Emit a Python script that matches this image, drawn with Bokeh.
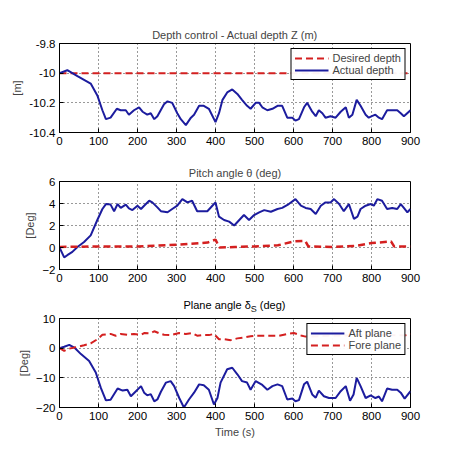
from bokeh.plotting import figure
from bokeh.layouts import column
from bokeh.models import (FixedTicker, CustomJSTickFormatter, Div,
                          Legend, LegendItem, Range1d)
from bokeh.embed import file_html
from bokeh.resources import INLINE

# depth control
t_depth = [0, 20, 46, 80, 97, 110, 119, 131, 147, 157, 170, 178, 191, 204, 213, 225, 234, 243, 251, 268,
           277, 289, 302, 311, 324, 337, 345, 358, 370, 383, 400, 409, 418, 430, 443, 456, 468, 481, 490, 503,
           512, 520, 533, 546, 559, 571, 584, 597, 605, 614, 627, 635, 648, 657, 665, 674, 682, 695, 708, 721,
           734, 742, 751, 762, 772, 785, 793, 801, 810, 819, 827, 840, 853, 866, 875, 883, 900]
depth_actual = [-10.0, -9.98, -10.02, -10.07, -10.15, -10.25, -10.31, -10.30, -10.24, -10.25,
                -10.25, -10.28, -10.25, -10.23, -10.26, -10.28, -10.27, -10.31, -10.29, -10.21,
                -10.19, -10.20, -10.27, -10.31, -10.35, -10.30, -10.28, -10.22, -10.22, -10.24,
                -10.33, -10.27, -10.18, -10.13, -10.11, -10.14, -10.18, -10.22, -10.24, -10.20,
                -10.20, -10.23, -10.25, -10.24, -10.22, -10.22, -10.30, -10.30, -10.32, -10.31,
                -10.23, -10.20, -10.26, -10.29, -10.25, -10.27, -10.30, -10.29, -10.30, -10.26,
                -10.23, -10.30, -10.28, -10.18, -10.22, -10.28, -10.30, -10.29, -10.28, -10.30,
                -10.31, -10.25, -10.25, -10.25, -10.27, -10.29, -10.25]
t_desired = [0, 900]
depth_desired = [-10, -10]

# pitch angle
t_pitch = [0, 12, 20, 33, 46, 63, 80, 97, 110, 119, 131, 140, 149, 157, 170, 178, 187, 200, 209, 217,
           230, 238, 251, 260, 277, 289, 302, 315, 328, 340, 353, 366, 379, 392, 400, 409, 422, 435, 448, 461,
           473, 486, 499, 512, 525, 542, 559, 571, 588, 605, 619, 631, 644, 657, 670, 682, 695, 704, 717, 729,
           742, 755, 764, 772, 785, 798, 806, 815, 827, 840, 853, 866, 875, 883, 892, 900]
pitch = [0, -0.9, -0.7, -0.4, 0.05, 0.5, 1.1, 2.5, 3.5, 3.95, 3.9, 3.3, 3.95, 3.6, 3.9, 3.55, 3.4, 3.8, 3.5, 3.8,
         4.25, 4.1, 3.65, 3.3, 3.2, 3.5, 3.8, 4.4, 4.1, 4.25, 3.3, 3.3, 3.3, 3.8, 4.1, 2.8, 2.5, 2.35, 2.0, 2.5,
         2.95, 2.5, 2.95, 3.2, 3.4, 3.25, 3.5, 3.6, 3.95, 4.4, 3.8, 3.6, 3.5, 3.05, 3.8, 4.1, 4.1, 4.4, 3.95, 3.3,
         3.95, 2.6, 2.8, 3.5, 3.8, 3.95, 3.8, 4.4, 4.25, 3.5, 3.6, 3.5, 3.95, 3.6, 3.2, 3.5]
t_pref = [0, 100, 200, 300, 380, 400, 410, 450, 500, 560, 600, 630, 638, 700, 760, 800, 850, 858, 900]
pitch_ref = [0.05, 0.1, 0.1, 0.25, 0.45, 0.72, 0.0, 0.05, 0.1, 0.2, 0.55, 0.6, 0.1, 0.05, 0.15, 0.4, 0.55, 0.1, 0.1]

# plane angles
t_aft = [0, 12, 25, 38, 55, 76, 93, 106, 119, 131, 149, 162, 174, 183, 196, 209, 217, 225, 234, 243,
         251, 260, 273, 285, 294, 307, 319, 332, 345, 358, 370, 383, 396, 405, 413, 430, 443, 456, 468, 481,
         490, 503, 520, 533, 546, 559, 571, 584, 597, 605, 614, 627, 635, 648, 657, 665, 678, 691, 708, 721,
         734, 745, 754, 762, 772, 785, 798, 810, 819, 827, 840, 853, 866, 875, 885, 900]
aft = [0, 0.5, 1.1, 0.2, -2, -4.3, -8.2, -13.4, -17.6, -17.4, -13.6, -14.3, -14, -16.2, -14.5, -12.8, -15, -15.9, -15.5, -17.9,
       -17.3, -14.7, -11.6, -11.1, -12.8, -16.8, -20, -17.3, -15, -12.2, -12.5, -14, -19, -16.8, -11.6, -7.1, -6.6, -8.8, -11.1, -11.6,
       -14, -11.1, -12.4, -14, -12.8, -12.2, -12.8, -17.3, -17, -17.9, -17.5, -12.2, -11.3, -15.6, -16.7, -14.3, -16.2, -16.8, -16.8, -14.5,
       -12.8, -17.7, -15.6, -10, -12.8, -16.8, -15.9, -16.8, -16.3, -17.9, -13.6, -14, -14, -15, -17, -14.5]
t_fore = [0, 12, 20, 38, 63, 80, 97, 110, 131, 144, 157, 174, 191, 209, 217, 234, 243, 256, 268, 285,
          307, 324, 340, 353, 366, 383, 396, 409, 422, 439, 456, 473, 490, 507, 524, 541, 563, 584, 601, 619,
          631, 700, 800, 885, 900]
fore = [0, -0.9, -0.3, 0.2, 1, 1.6, 3, 4.5, 4.8, 4.2, 4.8, 4.5, 4.8, 4.5, 5.1, 5, 5.7, 5, 4.5, 4.4,
        5.1, 4.8, 5.1, 4.2, 4.4, 4.4, 4.8, 3, 3, 2.7, 3.3, 3.6, 4, 4.2, 4.2, 4.2, 4.2, 4.8, 5.1, 4.3,
        3.9, 4.2, 4.5, 4.3, 4.8]

x_ticks = [0, 100, 200, 300, 400, 500, 600, 700, 800, 900]

FONT = "Liberation Sans"
BLUE = "#1c1c9e"
RED = "#d42020"


def make_fig(height, top, bottom, y0, y1, yticks, ylabel, title=None):
    p = figure(width=453, height=height, x_range=Range1d(0, 900), y_range=Range1d(y0, y1),
               output_backend="svg", toolbar_location=None, title=title,
               min_border_left=59, min_border_right=43, min_border_top=top, min_border_bottom=bottom)
    if title:
        p.title.align = "center"
        p.title.text_font = FONT
        p.title.text_font_size = "11px"
        p.title.text_font_style = "normal"
        p.title.standoff = 5
    p.outline_line_color = "black"
    p.outline_line_alpha = 1
    p.xaxis.ticker = FixedTicker(ticks=x_ticks)
    p.yaxis.ticker = FixedTicker(ticks=yticks)
    p.yaxis.axis_label = ylabel
    for ax in p.xaxis + p.yaxis:
        ax.major_tick_in = 4
        ax.major_tick_out = 0
        ax.minor_tick_line_color = None
        ax.axis_line_color = "black"
        ax.major_tick_line_color = "black"
        ax.major_label_text_font = FONT
        ax.major_label_text_font_size = "11.5px"
        ax.major_label_text_color = "black"
        ax.axis_label_text_font = FONT
        ax.axis_label_text_font_size = "11px"
        ax.axis_label_text_font_style = "normal"
        ax.major_label_standoff = 4
        ax.axis_label_standoff = 3
    for g in (p.xgrid[0], p.ygrid[0]):
        g.grid_line_color = "black"
        g.grid_line_alpha = 0.8
        g.grid_line_dash = "1 3"
    return p


def style_legend(p, items):
    leg = Legend(items=items, location="top_right")
    leg.label_text_font = FONT
    leg.label_text_font_size = "11px"
    leg.border_line_color = "black"
    leg.border_line_alpha = 1
    leg.margin = 5
    leg.padding = 3
    leg.spacing = 0
    leg.glyph_width = 34
    leg.glyph_height = 12
    leg.label_height = 12
    leg.label_standoff = 4
    p.add_layout(leg)


p1 = make_fig(150, 43, 18, -10.4, -9.8, [-10.4, -10.2, -10, -9.8], "[m]",
              "Depth control - Actual depth Z (m)")
p1.yaxis.formatter = CustomJSTickFormatter(code="return String(Math.round(tick*10)/10)")
r_des = p1.line(t_desired, depth_desired, line_color=RED, line_width=2, line_dash="7 4")
r_act = p1.line(t_depth, depth_actual, line_color=BLUE, line_width=2)
style_legend(p1, [LegendItem(label="Desired depth", renderers=[r_des]),
                  LegendItem(label="Actual depth", renderers=[r_act])])

p2 = make_fig(137, 31, 18, -2, 6, [-2, 0, 2, 4, 6], "[Deg]", "Pitch angle \u03b8 (deg)")
p2.line(t_pitch, pitch, line_color=BLUE, line_width=2)
p2.line(t_pref, pitch_ref, line_color=RED, line_width=2.5, line_dash="7 4")

# third title needs a subscript, so it is a Div above the figure
title3 = Div(text="Plane angle \u03b4<sub style='font-size:9px'>S</sub> (deg)", width=437, height=24,
             margin=(0, 0, 0, 16),
             styles={"text-align": "center", "font-family": FONT, "font-size": "11px",
                     "padding-top": "12px", "line-height": "12px", "color": "black"})

p3 = make_fig(146, 7, 50, -20, 10, [-20, -10, 0, 10], "[Deg]")
p3.below[0].axis_label = "Time (s)"
r_aft = p3.line(t_aft, aft, line_color=BLUE, line_width=2)
r_fore = p3.line(t_fore, fore, line_color=RED, line_width=2, line_dash="7 4")
style_legend(p3, [LegendItem(label="Aft plane", renderers=[r_aft]),
                  LegendItem(label="Fore plane", renderers=[r_fore])])

layout = column(p1, p2, title3, p3, spacing=0)
open("out.html", "w").write(file_html(layout, INLINE))
